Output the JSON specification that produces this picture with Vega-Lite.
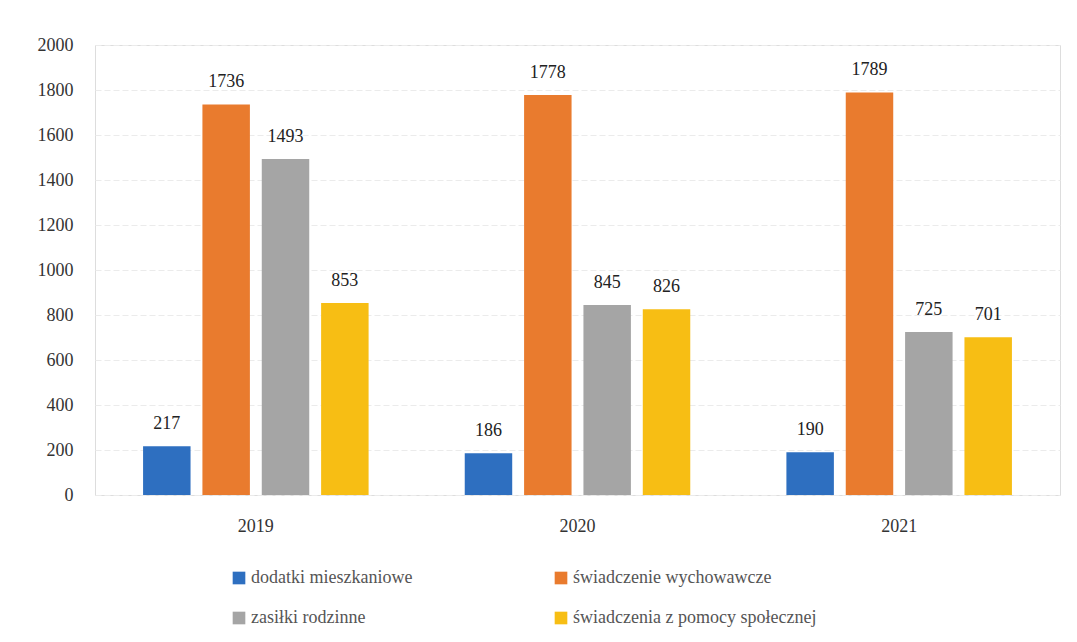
{
  "$schema": "https://vega.github.io/schema/vega-lite/v6.json",
  "width": 965,
  "height": 450,
  "autosize": {"type": "none"},
  "padding": {"left": 95, "top": 45, "right": 17, "bottom": 147},
  "background": "white",
  "data": {
    "values": [
      {"rok": "2019", "kategoria": "dodatki mieszkaniowe", "ord": 1, "wartosc": 217},
      {"rok": "2019", "kategoria": "świadczenie wychowawcze", "ord": 2, "wartosc": 1736},
      {"rok": "2019", "kategoria": "zasiłki rodzinne", "ord": 3, "wartosc": 1493},
      {"rok": "2019", "kategoria": "świadczenia z pomocy społecznej", "ord": 4, "wartosc": 853},
      {"rok": "2020", "kategoria": "dodatki mieszkaniowe", "ord": 1, "wartosc": 186},
      {"rok": "2020", "kategoria": "świadczenie wychowawcze", "ord": 2, "wartosc": 1778},
      {"rok": "2020", "kategoria": "zasiłki rodzinne", "ord": 3, "wartosc": 845},
      {"rok": "2020", "kategoria": "świadczenia z pomocy społecznej", "ord": 4, "wartosc": 826},
      {"rok": "2021", "kategoria": "dodatki mieszkaniowe", "ord": 1, "wartosc": 190},
      {"rok": "2021", "kategoria": "świadczenie wychowawcze", "ord": 2, "wartosc": 1789},
      {"rok": "2021", "kategoria": "zasiłki rodzinne", "ord": 3, "wartosc": 725},
      {"rok": "2021", "kategoria": "świadczenia z pomocy społecznej", "ord": 4, "wartosc": 701}
    ]
  },
  "encoding": {
    "x": {
      "field": "rok", "type": "nominal",
      "scale": {"paddingInner": 0, "paddingOuter": 0},
      "axis": {"title": null, "labelAngle": 0, "domain": false, "ticks": false, "labelPadding": 22,
               "labelFont": "Liberation Serif", "labelFontSize": 18, "labelColor": "#333"}
    },
    "xOffset": {
      "field": "ord", "type": "ordinal",
      "scale": {"paddingInner": 0.2, "paddingOuter": 0.81}
    },
    "y": {
      "field": "wartosc", "type": "quantitative",
      "scale": {"domain": [0, 2000]},
      "axis": {"title": null, "values": [0,200,400,600,800,1000,1200,1400,1600,1800,2000], "format": "d",
               "domain": false, "ticks": false, "labelPadding": 22,
               "labelFont": "Liberation Serif", "labelFontSize": 18, "labelColor": "#333",
               "gridColor": "#ebebeb", "gridDash": [6, 3]}
    }
  },
  "layer": [
    {
      "mark": {"type": "bar"},
      "encoding": {
        "color": {
          "field": "kategoria", "type": "nominal",
          "scale": {
            "domain": ["dodatki mieszkaniowe", "zasiłki rodzinne", "świadczenie wychowawcze", "świadczenia z pomocy społecznej"],
            "range": ["#2E6FC0", "#A5A5A5", "#E97B2E", "#F7BE14"]
          },
          "legend": {
            "title": null, "orient": "none", "legendX": 135, "legendY": 524,
            "columns": 2, "columnPadding": 139, "rowPadding": 22,
            "symbolType": "square", "symbolSize": 160, "symbolStrokeWidth": 0,
            "labelFont": "Liberation Sans Narrow", "labelFontSize": 18, "labelColor": "#555",
            "labelOffset": 3, "labelLimit": 400
          }
        }
      }
    },
    {
      "mark": {"type": "text", "baseline": "bottom", "dy": -13, "font": "Liberation Serif", "fontSize": 18, "color": "#222"},
      "encoding": {"text": {"field": "wartosc", "type": "quantitative"}}
    }
  ]
}
